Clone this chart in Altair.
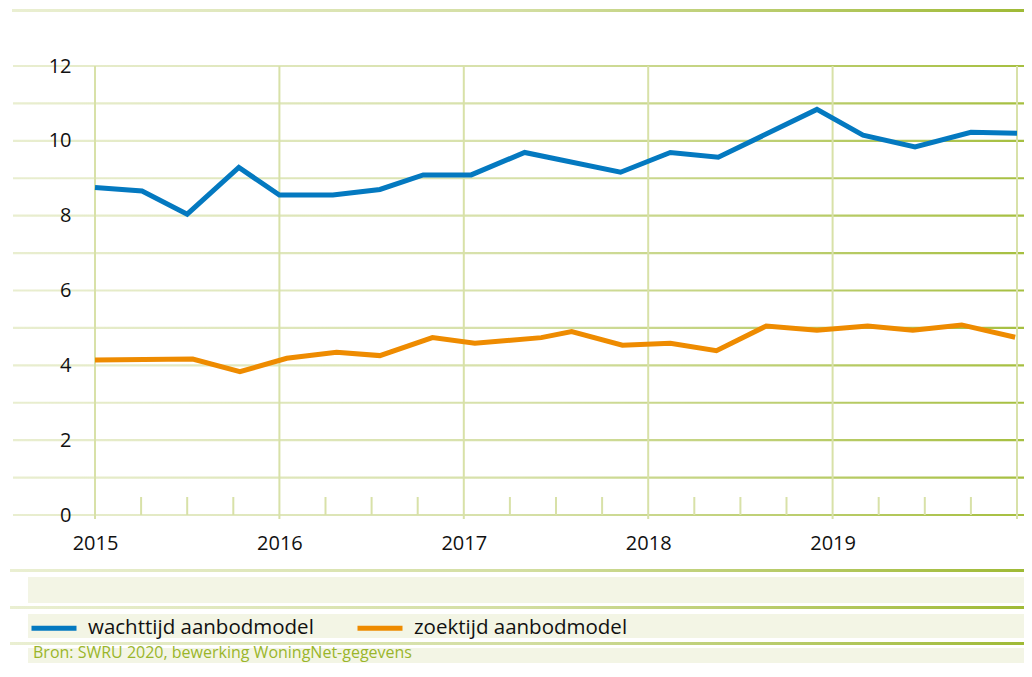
import altair as alt
import pandas as pd

# ---- data ----
series_names = ["wachttijd aanbodmodel", "zoektijd aanbodmodel"]
series_colors = ["#0479c0", "#ee8b00"]

x_wacht = [2015.0, 2015.255, 2015.50, 2015.78, 2016.0, 2016.29, 2016.545, 2016.78, 2017.04,
           2017.33, 2017.85, 2018.12, 2018.38, 2018.915, 2019.165, 2019.447, 2019.75, 2020.0]
y_wacht = [8.75, 8.66, 8.04, 9.29, 8.55, 8.55, 8.70, 9.09, 9.09,
           9.69, 9.16, 9.69, 9.56, 10.84, 10.15, 9.84, 10.23, 10.20]

x_zoek = [2015.0, 2015.53, 2015.786, 2016.04, 2016.31, 2016.545, 2016.83, 2017.06, 2017.42,
          2017.585, 2017.86, 2018.12, 2018.37, 2018.64, 2018.915, 2019.19, 2019.435, 2019.70, 2019.99]
y_zoek = [4.14, 4.17, 3.83, 4.19, 4.35, 4.26, 4.74, 4.59, 4.74,
          4.90, 4.54, 4.59, 4.39, 5.05, 4.94, 5.05, 4.94, 5.08, 4.75]

grid_levels = [0, 1, 2, 3, 4, 5, 6, 7, 8, 9, 10, 11, 12]
y_tick_labels = [0, 2, 4, 6, 8, 10, 12]
year_lines = [2015, 2016, 2017, 2018, 2019, 2020]
year_labels = [2015, 2016, 2017, 2018, 2019]
quarter_ticks = [2015.25, 2015.5, 2015.75, 2016.25, 2016.5, 2016.75, 2017.25, 2017.5, 2017.75,
                 2018.25, 2018.5, 2018.75, 2019.25, 2019.5, 2019.75]
source_text = "Bron: SWRU 2020, bewerking WoningNet-gegevens"

df = pd.concat([
    pd.DataFrame({"series": series_names[0], "t": x_wacht, "v": y_wacht}),
    pd.DataFrame({"series": series_names[1], "t": x_zoek, "v": y_zoek}),
])

FONT = "Open Sans"
W, H = 922, 449
BEIGE = "#f3f5e5"

x_scale = alt.Scale(domain=[2015, 2020], nice=False, zero=False)
y_scale = alt.Scale(domain=[0, 12], nice=False, zero=False)

x_axis = alt.Axis(values=year_labels, format="d", title=None, grid=False, domain=False,
                  ticks=False, labelFont=FONT, labelFontSize=20, labelColor="#111111",
                  labelPadding=28, labelBaseline="middle", labelFlush=False,
                  labelOverlap=False, labelBound=False, zindex=1)
y_axis = alt.Axis(values=y_tick_labels, title=None, grid=False, domain=False, ticks=False,
                  labelFont=FONT, labelFontSize=20, labelColor="#111111", labelPadding=24,
                  labelFlush=False, labelOverlap=False, zindex=1)

grad_grid = {"gradient": "linear", "x1": 0, "y1": 0, "x2": 1, "y2": 0,
             "stops": [{"offset": 0, "color": "#e9eed0"},
                       {"offset": 0.5, "color": "#d6e0a8"},
                       {"offset": 1, "color": "#a6bf40"}]}
grad_sep = {"gradient": "linear", "x1": 0, "y1": 0, "x2": 1, "y2": 0,
            "stops": [{"offset": 0, "color": "#eaefd2"},
                      {"offset": 0.5, "color": "#d3dea2"},
                      {"offset": 1, "color": "#9fba36"}]}

one = pd.DataFrame({"a": [0]})
XR = 929


def band(y1, y2, x1=-67, x2=XR):
    return alt.Chart(one).mark_rect(fill=BEIGE).encode(
        x=alt.value(x1), x2=alt.value(x2), y=alt.value(y1), y2=alt.value(y2))


def sep(y1, y2, x1=-85, x2=XR):
    return alt.Chart(one).mark_rect(fill=grad_sep).encode(
        x=alt.value(x1), x2=alt.value(x2), y=alt.value(y1), y2=alt.value(y2))


bands = band(511, 537) + band(548, 572) + band(582, 600)
seps = sep(-57, -54, x1=-83) + sep(503, 506) + sep(540, 543) + sep(576, 579)

grid = alt.Chart(pd.DataFrame({"g": grid_levels})).transform_calculate(
    g1="datum.g + 0.028", g2="datum.g - 0.028"
).mark_rect(fill=grad_grid).encode(
    x=alt.value(-82), x2=alt.value(XR),
    y=alt.Y("g1:Q", scale=y_scale, axis=y_axis), y2="g2:Q")

vlines = alt.Chart(pd.DataFrame({"yr": year_lines})).mark_rule(
    color="#d8e1a8", strokeWidth=2).encode(
    x=alt.X("yr:Q", scale=x_scale, axis=x_axis), y=alt.value(0), y2=alt.value(453))

qticks = alt.Chart(pd.DataFrame({"q": quarter_ticks})).mark_rule(
    color="#d8e1a8", strokeWidth=2).encode(
    x=alt.X("q:Q", scale=x_scale, axis=x_axis), y=alt.value(431), y2=alt.value(449))

lines = alt.Chart(df).mark_line(strokeWidth=5, strokeCap="butt").encode(
    x=alt.X("t:Q", scale=x_scale, axis=x_axis),
    y=alt.Y("v:Q", scale=y_scale, axis=y_axis),
    color=alt.Color("series:N",
                    scale=alt.Scale(domain=series_names, range=series_colors),
                    legend=alt.Legend(orient="none", legendX=-66, legendY=537,
                                      direction="horizontal", title=None,
                                      symbolType="stroke", symbolSize=2025,
                                      symbolStrokeWidth=5, labelOffset=9,
                                      columnPadding=33, labelFont=FONT,
                                      labelFontSize=20.5, labelColor="#111111",
                                      labelLimit=0, padding=0, rowPadding=0)),
    detail="series:N",
)

source = alt.Chart(one).mark_text(
    text=source_text, align="left", baseline="alphabetic", font=FONT, fontSize=16,
    color="#9ab52a").encode(x=alt.value(-62), y=alt.value(592))

chart = alt.layer(bands, seps, grid, vlines, qticks, lines, source).properties(
    width=W, height=H,
    autosize=alt.AutoSizeParams(type="none"),
    padding={"left": 87, "top": 58, "right": 7, "bottom": 148},
).configure_view(stroke=None).configure(background="white")

chart.save("out.html", embed_options={"renderer": "svg", "actions": False})
